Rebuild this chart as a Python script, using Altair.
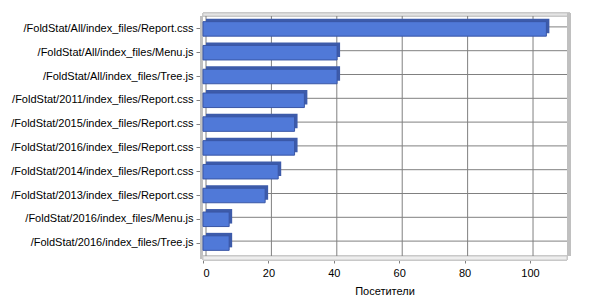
import altair as alt
import pandas as pd

paths = [
    "/FoldStat/All/index_files/Report.css",
    "/FoldStat/All/index_files/Menu.js",
    "/FoldStat/All/index_files/Tree.js",
    "/FoldStat/2011/index_files/Report.css",
    "/FoldStat/2015/index_files/Report.css",
    "/FoldStat/2016/index_files/Report.css",
    "/FoldStat/2014/index_files/Report.css",
    "/FoldStat/2013/index_files/Report.css",
    "/FoldStat/2016/index_files/Menu.js",
    "/FoldStat/2016/index_files/Tree.js",
]
visitors = [105, 41, 41, 31, 28, 28, 23, 19, 8, 8]
x_ticks = [0, 20, 40, 60, 80, 100]
x_max = 111

W, H = 363, 238
FONT = "Liberation Sans"

df = pd.DataFrame({"path": paths, "visitors": visitors})
ticks_df = pd.DataFrame({"t": x_ticks})

xscale = alt.Scale(domain=[0, x_max], nice=False, zero=True)
yscale = alt.Scale(domain=paths, paddingInner=0.39, paddingOuter=0.195)

# walls / frame
left_wall = alt.Chart(df).mark_rect(color="#c0c0c0").encode(
    x=alt.value(-3), x2=alt.value(0), y=alt.value(-1), y2=alt.value(H + 4))
top_wall = alt.Chart(df).mark_rect(color="#e4e4e4", stroke="#c8c8c8", strokeWidth=1).encode(
    x=alt.value(0), x2=alt.value(W + 4), y=alt.value(-4), y2=alt.value(-1))
right_wall = alt.Chart(df).mark_rect(color="#c0c0c0").encode(
    x=alt.value(W + 1), x2=alt.value(W + 5), y=alt.value(-4), y2=alt.value(H + 1))
floor = alt.Chart(df).mark_rect(color="#eeeeee", stroke="#c8c8c8", strokeWidth=1).encode(
    x=alt.value(0), x2=alt.value(W + 1), y=alt.value(H + 1), y2=alt.value(H + 5))

vgrid = alt.Chart(ticks_df).mark_rule(color="#808080", strokeWidth=1, xOffset=3).encode(
    x=alt.X("t:Q", scale=xscale), y=alt.value(-1), y2=alt.value(H + 1))
hgrid = alt.Chart(df).mark_rule(color="#808080", strokeWidth=1, yOffset=-2).encode(
    y=alt.Y("path:N", scale=yscale, sort=paths), x=alt.value(3), x2=alt.value(W + 1))

side = alt.Chart(df).mark_bar(color="#3d5baa", xOffset=3, x2Offset=3, yOffset=-3, y2Offset=-3).encode(
    x=alt.X("visitors:Q", scale=xscale),
    y=alt.Y("path:N", scale=yscale, sort=paths),
)
front = alt.Chart(df).mark_bar(color="#5079d8", stroke="#3a57a6", strokeWidth=1).encode(
    x=alt.X("visitors:Q", scale=xscale,
            axis=alt.Axis(values=x_ticks, title="Посетители", grid=False, domain=False,
                          tickColor="#808080", tickSize=4, labelPadding=4,
                          labelFont=FONT, labelFontSize=11, labelColor="#000000",
                          titleFont=FONT, titleFontSize=11, titleFontWeight="normal",
                          titleColor="#000000", titlePadding=7, offset=4)),
    y=alt.Y("path:N", scale=yscale, sort=paths,
            axis=alt.Axis(title=None, grid=False, domain=False, tickColor="#808080",
                          tickSize=4, labelPadding=3, offset=3, labelFont=FONT,
                          labelFontSize=11, labelColor="#000000", labelLimit=400)),
)

chart = alt.layer(left_wall, top_wall, right_wall, floor, vgrid, hgrid, side, front).properties(
    width=W, height=H,
    autosize=alt.AutoSizeParams(type="none"),
    padding={"left": 203, "top": 17, "right": 600 - 203 - W, "bottom": 300 - 17 - H},
    background="#ffffff",
).configure_view(stroke=None)

chart.save("out.html", embed_options={"renderer": "svg", "actions": False})
